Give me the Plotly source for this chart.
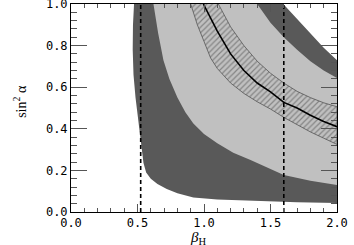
import plotly.graph_objects as go

# ---- data ----
# outer (dark) allowed region: left/lower boundary, top-left to bottom-right
dark_low_x = [0.474, 0.466, 0.464, 0.47, 0.485, 0.50, 0.515, 0.53, 0.545, 0.565, 0.60, 0.65, 0.72, 0.80, 0.92, 1.1, 1.4, 1.7, 2.0]
dark_low_y = [1.0, 0.90, 0.78, 0.66, 0.55, 0.47, 0.39, 0.30, 0.235, 0.19, 0.16, 0.135, 0.11, 0.09, 0.07, 0.06, 0.052, 0.047, 0.043]
# outer (dark) region: upper/right boundary, right edge to top
dark_up_x = [2.0, 1.9, 1.8, 1.7, 1.596]
dark_up_y = [0.73, 0.79, 0.86, 0.93, 1.0]

# inner (light) region: left/lower boundary
light_low_x = [0.62, 0.655, 0.695, 0.74, 0.80, 0.86, 0.92, 1.0, 1.1, 1.22, 1.35, 1.5, 1.6, 1.8, 2.0]
light_low_y = [1.0, 0.86, 0.73, 0.64, 0.55, 0.48, 0.425, 0.375, 0.33, 0.285, 0.25, 0.205, 0.178, 0.15, 0.13]
# inner (light) region: upper/right boundary
light_up_x = [2.0, 1.9, 1.8, 1.7, 1.6, 1.5, 1.40]
light_up_y = [0.644, 0.68, 0.725, 0.78, 0.84, 0.91, 1.0]

# hatched band
band_low_x = [0.90, 0.95, 1.0, 1.05, 1.1, 1.2, 1.3, 1.4, 1.5, 1.6, 1.7, 1.8, 1.9, 2.0]
band_low_y = [1.0, 0.90, 0.82, 0.74, 0.69, 0.62, 0.57, 0.53, 0.495, 0.455, 0.42, 0.385, 0.355, 0.325]
band_up_x = [2.0, 1.9, 1.8, 1.7, 1.6, 1.5, 1.4, 1.3, 1.2, 1.108]
band_up_y = [0.506, 0.525, 0.55, 0.58, 0.62, 0.667, 0.725, 0.80, 0.89, 1.0]

# central curve
curve_x = [0.995, 1.05, 1.1, 1.2, 1.3, 1.4, 1.5, 1.6, 1.7, 1.8, 1.9, 2.0]
curve_y = [1.0, 0.93, 0.87, 0.76, 0.68, 0.62, 0.578, 0.527, 0.50, 0.465, 0.435, 0.41]

# vertical dashed limits
vlines_x = [0.524, 1.60]

x_ticks = [0.0, 0.5, 1.0, 1.5, 2.0]
y_ticks = [0.0, 0.2, 0.4, 0.6, 0.8, 1.0]

DARK = "#595959"
LIGHT = "#c0c0c0"

fig = go.Figure()

fig.add_trace(go.Scatter(
    x=dark_low_x + dark_up_x, y=dark_low_y + dark_up_y,
    mode="lines", fill="toself", fillcolor=DARK, line=dict(width=0, color=DARK),
    hoverinfo="skip", showlegend=False))

fig.add_trace(go.Scatter(
    x=light_low_x + light_up_x, y=light_low_y + light_up_y,
    mode="lines", fill="toself", fillcolor=LIGHT, line=dict(width=0, color=LIGHT),
    hoverinfo="skip", showlegend=False))

fig.add_trace(go.Scatter(
    x=band_low_x + band_up_x, y=band_low_y + band_up_y,
    mode="lines", fill="toself", fillcolor=LIGHT,
    fillpattern=dict(shape="/", fgcolor="#4a4a4a", bgcolor=LIGHT, size=4, solidity=0.3),
    line=dict(width=0.8, color="#555555"),
    hoverinfo="skip", showlegend=False))

fig.add_trace(go.Scatter(
    x=curve_x, y=curve_y, mode="lines", line=dict(width=1.6, color="black"),
    hoverinfo="skip", showlegend=False))

for xv in vlines_x:
    fig.add_trace(go.Scatter(
        x=[xv, xv], y=[0, 1], mode="lines",
        line=dict(width=1.6, color="black", dash="4px,3px"),
        hoverinfo="skip", showlegend=False))

tickfont = dict(family="DejaVu Sans Mono", size=12, color="black")

fig.update_layout(
    width=354, height=245,
    margin=dict(l=71, r=17, t=4, b=33, autoexpand=False),
    paper_bgcolor="white", plot_bgcolor="white",
    xaxis=dict(
        range=[0, 2], tickvals=x_ticks, tickformat=".1f", showgrid=False, zeroline=False,
        showline=True, linecolor="black", linewidth=1, mirror="ticks",
        ticks="inside", ticklen=8, tickcolor="#555", tickwidth=1,
        minor=dict(dtick=0.1, ticks="inside", ticklen=4, tickcolor="#555"),
        tickfont=tickfont, automargin=False, ticklabeloverflow="allow",
    ),
    yaxis=dict(
        range=[0, 1], tickvals=y_ticks, tickformat=".1f", showgrid=False, zeroline=False,
        showline=True, linecolor="black", linewidth=1, mirror="ticks",
        ticks="inside", ticklen=16, tickcolor="#555", tickwidth=1,
        minor=dict(dtick=0.04, ticks="inside", ticklen=6, tickcolor="#555"),
        tickfont=tickfont, automargin=False, ticklabeloverflow="allow",
    ),
    annotations=[
        dict(text="<i>β</i><sub>H</sub>", xref="paper", yref="paper", x=0.478, y=-0.126,
             xanchor="center", yanchor="middle", showarrow=False,
             font=dict(family="Liberation Serif", size=15, color="black")),
        dict(text="sin<sup>2</sup> α", xref="paper", yref="paper", x=-0.192, y=0.534,
             xanchor="center", yanchor="middle", showarrow=False, textangle=-90,
             font=dict(family="Liberation Serif", size=14, color="black")),
    ],
)

fig.write_html("out.html", config={"displayModeBar": False},
               post_script="document.body.style.margin='0';document.body.style.overflow='hidden';")
